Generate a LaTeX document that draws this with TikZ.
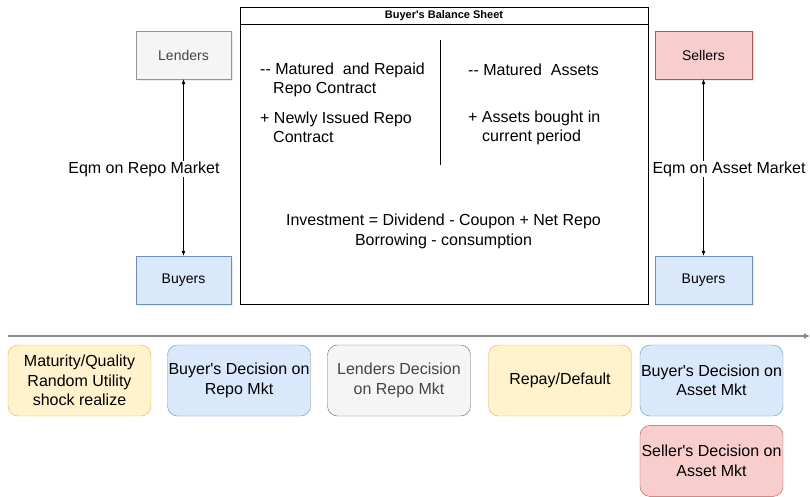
\documentclass[tikz,border=0pt]{standalone}
\usepackage{fontspec}
\setmainfont{Liberation Sans}
\usepackage{tikz}
\usetikzlibrary{positioning, arrows.meta, calc, shadows}
\definecolor{GrayFill}{HTML}{F5F5F5}
\definecolor{GrayLine}{HTML}{666666}
\definecolor{GrayText}{HTML}{444444}
\definecolor{BlueFill}{HTML}{DAE8FC}
\definecolor{BlueLine}{HTML}{6C8EBF}
\definecolor{RedFill} {HTML}{F8CECC}
\definecolor{RedLine} {HTML}{B85450}
\definecolor{YelFill} {HTML}{FFF2CC}
\definecolor{YelLine} {HTML}{D6B656}
\definecolor{TimeGry} {HTML}{8C8C8C}

\tikzset{
  agent/.style={draw, minimum width=95pt, minimum height=48pt, inner sep=0pt,
    font=\fontsize{14}{17}\selectfont,
    drop shadow={shadow xshift=1.5pt, shadow yshift=-1.5pt, opacity=0.15}},
  event/.style={draw, rounded corners=10pt, minimum width=143pt, minimum height=71pt,
    inner sep=0pt, align=center, font=\fontsize{16}{19.5}\selectfont},
  mktlabel/.style={fill=white, inner sep=1pt, font=\fontsize{16}{19}\selectfont},
  sheettxt/.style={anchor=west, align=left, inner sep=0pt, font=\fontsize{16}{19}\selectfont},
  eqarrow/.style={{Latex[length=5pt,width=4pt]}-{Latex[length=5pt,width=4pt]}, line width=0.6pt},
}

\begin{document}
\begin{tikzpicture}[x=1pt, y=-1pt]
      \useasboundingbox (0,0) rectangle (810,496);

      % ── balance sheet ─────────────────────────────────────────────────────────
      \node (sheet) [draw, line width=0.7pt, minimum width=408pt, minimum height=297pt,
        inner sep=0pt] at (444,155.5) {};
      \draw[line width=0.7pt] ($(sheet.north west)+(0,18)$) -- ($(sheet.north east)+(0,18)$);
      \node (title) [font=\bfseries\fontsize{11}{13}\selectfont] at (444,16)
        {Buyer\textquotesingle s Balance Sheet};
      \draw[line width=0.7pt] (440,40) -- (440,165);

      \node (liab1) [sheettxt] at (260,79.5)
        {-{}- Matured\ \ and Repaid\\\hspace*{13pt}Repo Contract};
      \node (liab2) [sheettxt] at (260,127.5)
        {+ Newly Issued Repo\\\hspace*{13pt}Contract};
      \node (asset1) [sheettxt] at (468,70) {-{}- Matured\ \ Assets};
      \node (asset2) [sheettxt] at (468,127.5)
        {+ Assets bought in\\\hspace*{14pt}current period};
      \node (budget) [align=center, inner sep=0pt, font=\fontsize{16}{20}\selectfont]
        at (443.5,231) {Investment = Dividend - Coupon + Net Repo\\Borrowing - consumption};

      % ── agents ────────────────────────────────────────────────────────────────
      \node (lenders) [agent, fill=GrayFill, draw=GrayLine!70, text=GrayText] at (183.5,55) {Lenders};
      \node (buyersL) [agent, fill=BlueFill, draw=BlueLine] at (183.5,280) {Buyers};
      \node (sellers) [agent, fill=RedFill, draw=RedLine, minimum width=97pt] at (703.5,55) {Sellers};
      \node (buyersR) [agent, fill=BlueFill, draw=BlueLine, minimum width=97pt] at (703.5,280) {Buyers};

      % ── market equilibria ─────────────────────────────────────────────────────
      \draw[eqarrow] (lenders) -- (buyersL);
      \draw[eqarrow] (sellers) -- (buyersR);
      \node (repoeq) [mktlabel] at (144,169) {Eqm on Repo Market};
      \node (asseteq) [mktlabel] at (729,169) {Eqm on Asset Market};

      % ── timeline ──────────────────────────────────────────────────────────────
      \coordinate (tl0) at (8,336);
      \coordinate (tl1) at (810,336);
      \draw[TimeGry, line width=1.3pt, -{Latex[length=6pt,width=6pt]}] (tl0) -- (tl1);

      \node (shock) [event, fill=YelFill, draw=YelLine] at (79.5,380.5)
        {Maturity/Quality\\Random Utility\\shock realize};
      \node (buyrepo) [event, fill=BlueFill, draw=BlueLine] at (239,380.5)
        {Buyer\textquotesingle s Decision on\\Repo Mkt};
      \node (lendrepo) [event, fill=GrayFill, draw=GrayLine, text=GrayText] at (399,380.5)
        {Lenders Decision\\on Repo Mkt};
      \node (repay) [event, fill=YelFill, draw=YelLine] at (560,380.5) {Repay/Default};
      \node (buyasset) [event, fill=BlueFill, draw=BlueLine] at (711.5,380.5)
        {Buyer\textquotesingle s Decision on\\Asset Mkt};
      \node (sellasset) [event, fill=RedFill, draw=RedLine, below=9pt of buyasset]
        {Seller\textquotesingle s Decision on\\Asset Mkt};
\end{tikzpicture}
\end{document}
